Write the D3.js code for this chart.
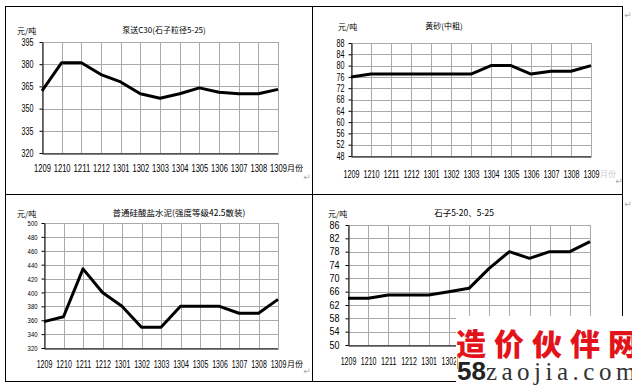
<!DOCTYPE html>
<html>
<head>
<meta charset="utf-8">
<script src="https://cdn.jsdelivr.net/npm/d3@7"></script>
<style>
  body { margin: 0; background: #fff; }
  svg { display: block; }
  .tick text { font-family: "Liberation Sans", Arial, sans-serif; fill: #000; }
  .cjk { font-family: "Noto Sans CJK SC", sans-serif; fill: #000; }
</style>
</head>
<body>
<svg id="chart" width="632" height="386"></svg>
<script>
// months on the x axis (shared by all four panels)
const months = ["1209","1210","1211","1212","1301","1302","1303","1304","1305","1306","1307","1308","1309"];

// price series, yuan per ton
const pumpC30    = [362, 381, 381, 373, 368, 360, 357, 360, 364, 361, 360, 360, 363];
const yellowSand = [76, 77, 77, 77, 77, 77, 77, 80, 80, 77, 78, 78, 80];
const cement     = [358, 365, 434, 400, 380, 350, 350, 380, 380, 380, 370, 370, 390];
const gravel     = [64, 64, 65, 65, 65, 66, 67, 73, 78, 76, 78, 78, 81];

// y tick labels
const ticksC30    = [320, 335, 350, 365, 380, 395];
const ticksSand   = [48, 52, 56, 60, 64, 68, 72, 76, 80, 84, 88];
const ticksCement = [320, 340, 360, 380, 400, 420, 440, 460, 480, 500];
const ticksGravel = [50, 54, 58, 62, 66, 70, 74, 78, 82, 86];

const svg = d3.select("#chart");

// table frame
const frame = svg.append("g").attr("stroke", "#000").attr("stroke-width", 1).attr("fill", "none");
frame.append("rect").attr("x", 5.5).attr("y", 6.5).attr("width", 617).attr("height", 375);
frame.append("line").attr("x1", 312.5).attr("x2", 312.5).attr("y1", 6).attr("y2", 382);
frame.append("line").attr("x1", 5).attr("x2", 623).attr("y1", 194.5).attr("y2", 194.5);

// squeeze the labels like the narrow font of the original
function narrow(sel, cw) {
    sel.attr("textLength", function() { return this.textContent.length * cw; })
       .attr("lengthAdjust", "spacingAndGlyphs");
}

function drawPanel(p) {
    let x = d3.scalePoint().domain(months).range([p.l, p.r]);
    let y = d3.scaleLinear().domain(p.domain).range([p.b, p.t]);
    let g = svg.append("g");

    // grid
    g.append("g").selectAll("line").data(p.ticks).enter().append("line")
        .attr("x1", p.l).attr("x2", p.r)
        .attr("y1", d => Math.round(y(d)) + 0.5).attr("y2", d => Math.round(y(d)) + 0.5)
        .attr("stroke", "#aaa");
    g.append("g").selectAll("line").data(months).enter().append("line")
        .attr("x1", d => Math.round(x(d)) + 0.5).attr("x2", d => Math.round(x(d)) + 0.5)
        .attr("y1", p.t).attr("y2", p.b)
        .attr("stroke", "#aaa");

    // y axis
    let ya = g.append("g")
        .attr("transform", "translate(" + (p.l + 0.5) + ",0)")
        .call(d3.axisLeft(y).tickValues(p.ticks).tickSize(3).tickSizeOuter(0).tickPadding(p.ypad));
    ya.selectAll("text").style("font-size", p.yfont + "px").call(narrow, p.ycw);
    ya.select(".domain").attr("stroke", "#000");

    // x axis (labels that sit under the watermark are left out)
    let shown = p.xmax ? months.filter(m => x(m) < p.xmax) : months;
    let xa = g.append("g")
        .attr("transform", "translate(0," + (p.b + 0.5) + ")")
        .call(d3.axisBottom(x).tickValues(shown).tickSize(0).tickSizeOuter(0).tickPadding(p.xbase - p.b - 0.71 * 10));
    xa.selectAll("text").style("font-size", "10px").call(narrow, p.xcw);
    xa.select(".domain").attr("stroke", "#000");

    if (p.suffix) {
        g.append("text").attr("class", "cjk")
            .attr("x", p.r + 9).attr("y", p.xbase)
            .style("font-size", "8px").style("fill", p.suffix)
            .text("月份");
    }

    // line
    let line = d3.line()
        .x((d, i) => x(months[i]))
        .y(d => y(d));
    g.append("path")
        .datum(p.values)
        .attr("fill", "none")
        .attr("stroke", "#000")
        .attr("stroke-width", 3)
        .attr("stroke-linejoin", "round")
        .attr("d", line);

    // title and unit
    g.append("text").attr("class", "cjk")
        .attr("x", p.tx).attr("y", p.ty)
        .attr("text-anchor", "middle")
        .style("font-size", p.tfont + "px")
        .text(p.title);
    g.append("text").attr("class", "cjk")
        .attr("x", p.ux).attr("y", p.ty + 1)
        .style("font-size", "8px")
        .text("元/吨");
}

drawPanel({ values: pumpC30, ticks: ticksC30, domain: [320, 395],
    l: 42, r: 278, t: 42, b: 153, ypad: 6, yfont: 10, ycw: 4, xcw: 4.2, xbase: 171,
    title: "泵送C30(石子粒径5-25)", tx: 164, ty: 33, tfont: 8, ux: 17, suffix: "#000" });

drawPanel({ values: yellowSand, ticks: ticksSand, domain: [48, 88],
    l: 351, r: 591, t: 43, b: 156, ypad: 4, yfont: 10, ycw: 4, xcw: 4, xbase: 177,
    title: "黄砂(中粗)", tx: 444, ty: 29, tfont: 8, ux: 338, suffix: "#ccc" });

drawPanel({ values: cement, ticks: ticksCement, domain: [320, 500],
    l: 44, r: 278, t: 223, b: 348, ypad: 4, yfont: 8, ycw: 3.3, xcw: 3.9, xbase: 367,
    title: "普通硅酸盐水泥(强度等级42.5散装)", tx: 179, ty: 216, tfont: 8.5, ux: 17, suffix: "#000" });

drawPanel({ values: gravel, ticks: ticksGravel, domain: [50, 86],
    l: 348, r: 590, t: 225, b: 345, ypad: 6, yfont: 10, ycw: 5, xcw: 3.9, xbase: 364, xmax: 456,
    title: "石子5-20、5-25", tx: 464, ty: 216, tfont: 8.5, ux: 328, suffix: null });

// paragraph marks
const marks = [[307, 180], [628, 18], [619, 184], [307, 374], [628, 207]];
svg.append("g").selectAll("text").data(marks).enter().append("text")
    .attr("x", d => d[0]).attr("y", d => d[1])
    .attr("text-anchor", "middle")
    .style("font-family", "DejaVu Sans").style("font-size", "9px").style("fill", "#aaa")
    .text("↵");

// watermark
const wm = svg.append("g");
wm.append("rect").attr("x", 456).attr("y", 316).attr("width", 176).attr("height", 70).attr("fill", "#fff");
wm.append("line").attr("x1", 457.5).attr("x2", 457.5).attr("y1", 356).attr("y2", 369).attr("stroke", "#e0a050");
wm.append("text").attr("x", 456).attr("y", 355)
    .style("font-family", "Noto Sans CJK SC").style("font-weight", "900")
    .style("font-size", "30px").style("letter-spacing", "8px").style("fill", "#e3131b")
    .text("造价伙伴网");
let dom = wm.append("text").attr("x", 457).attr("y", 380);
dom.append("tspan").style("font-family", "Liberation Sans").style("font-weight", "bold")
    .style("font-size", "26px").style("fill", "#222").text("58");
dom.append("tspan").style("font-family", "Liberation Serif")
    .style("font-size", "25px").style("letter-spacing", "4.5px").style("fill", "#333").text("zaojia.com");
</script>
</body>
</html>
